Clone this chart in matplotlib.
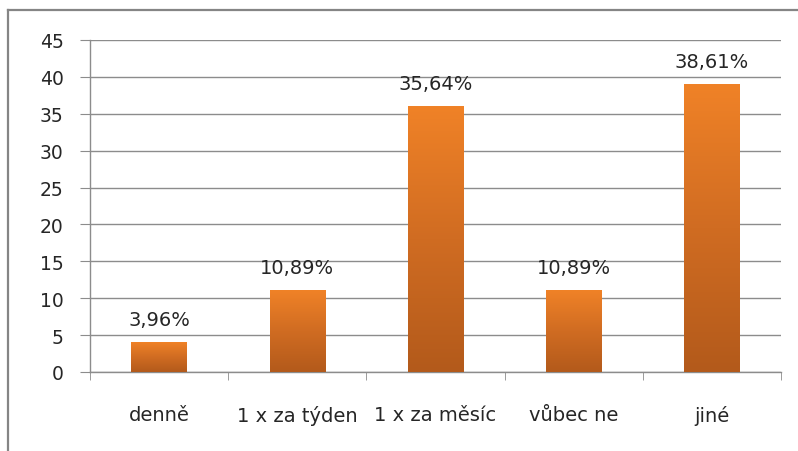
import numpy as np
import matplotlib
matplotlib.use('Agg')
import matplotlib.pyplot as plt
from matplotlib.colors import LinearSegmentedColormap
from matplotlib.lines import Line2D

# survey answers (counts of respondents), percentage labels come from them
categories = ['denně', '1 x za týden', '1 x za měsíc', 'vůbec ne', 'jiné']
counts = [4, 11, 36, 11, 39]
yticks = [0, 5, 10, 15, 20, 25, 30, 35, 40, 45]

total = sum(counts)
percents = [c / total * 100 for c in counts]

plt.rcParams['font.family'] = ['DejaVu Sans']
text_color = '#262626'

fig = plt.figure(figsize=(7.98, 4.52), dpi=100)
ax = fig.add_axes([90 / 798, 1 - 373 / 452, 691 / 798, 332 / 452])

# orange vertical gradient, light at top, darker at the base
grad = LinearSegmentedColormap.from_list('bar', ['#b35a1b', '#d06c22', '#f08227'])
ramp = np.linspace(0, 1, 256).reshape(-1, 1)

x = np.arange(len(categories))
width = 0.4
for xi, c, p in zip(x, counts, percents):
    ax.imshow(ramp, cmap=grad, origin='lower', aspect='auto',
              extent=(xi - width / 2, xi + width / 2, 0, c), zorder=3)
    ax.text(xi, c + 2.4, '{:.2f}%'.format(p).replace('.', ','),
            ha='center', va='baseline', fontsize=14, color=text_color, zorder=4)

ax.set_xlim(-0.5, len(categories) - 0.5)
ax.set_ylim(0, 45)
ax.set_yticks(yticks)
ax.set_yticklabels([str(t) for t in yticks], fontsize=13.5, color=text_color)
ax.set_xticks(x)
ax.set_xticklabels(categories, fontsize=14, color=text_color)
ax.set_xticks(np.arange(len(categories) + 1) - 0.5, minor=True)

ax.grid(axis='y', color='#8c8c8c', linewidth=1.0, zorder=0)
ax.set_axisbelow(True)
ax.tick_params(axis='y', length=7, color='#8c8c8c', pad=12)
ax.tick_params(axis='x', which='major', length=0, pad=24)
ax.tick_params(axis='x', which='minor', length=6, color='#8c8c8c', direction='out')

for side in ['top', 'right']:
    ax.spines[side].set_visible(False)
for side in ['left', 'bottom']:
    ax.spines[side].set_color('#8c8c8c')
    ax.spines[side].set_linewidth(1.0)

# frame around the chart area
x0, y0 = 8 / 798, 1 - 11 / 452
fig.add_artist(Line2D([x0, x0], [0, y0], transform=fig.transFigure,
                      color='#858585', linewidth=1.6))
fig.add_artist(Line2D([x0, 1], [y0, y0], transform=fig.transFigure,
                      color='#858585', linewidth=1.6))

fig.savefig('out.png', dpi=100)
